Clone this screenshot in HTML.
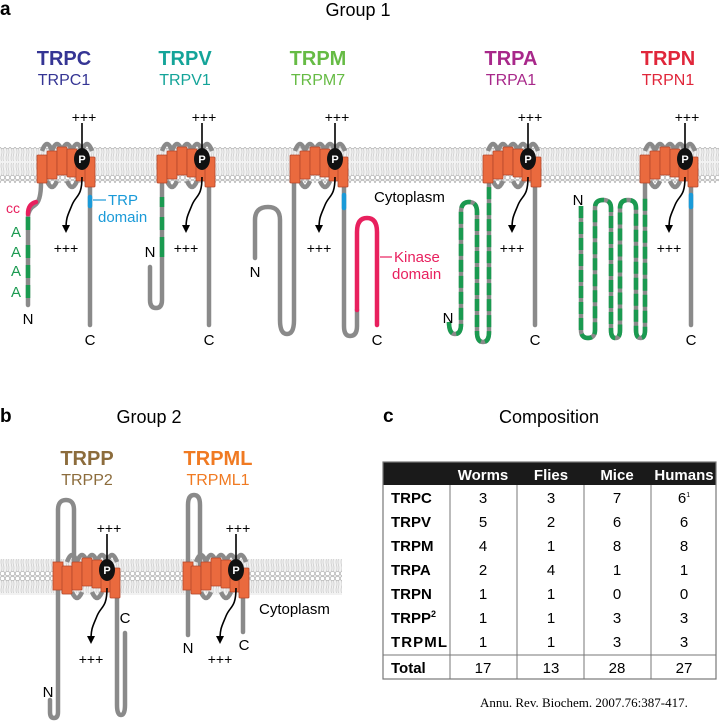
<!DOCTYPE html>
<html><head><meta charset="utf-8"><style>
body{margin:0;background:#fff}
svg{display:block;font-family:"Liberation Sans",Arial,sans-serif}
</style></head><body>
<svg width="719" height="721" viewBox="0 0 719 721" xmlns="http://www.w3.org/2000/svg">
<defs>
<pattern id="lip" x="0" y="0" width="5" height="36" patternUnits="userSpaceOnUse">
<rect width="5" height="36" fill="#f2f2f2"/>
<circle cx="2.5" cy="2.5" r="2.2" fill="#fff" stroke="#b8b8b8" stroke-width="0.8"/>
<circle cx="2.5" cy="33.5" r="2.2" fill="#fff" stroke="#b8b8b8" stroke-width="0.8"/>
<path d="M1.5 5 q1 3 0 6 q-1 3 0 6 M3.5 5 q1 3 0 6 q-1 3 0 6 M1.5 31 q1-3 0-6 q-1-3 0-6 M3.5 31 q1-3 0-6 q-1-3 0-6" fill="none" stroke="#c4c4c4" stroke-width="0.6"/>
</pattern>
<marker id="ar" viewBox="0 0 10 10" refX="5" refY="5" markerWidth="5" markerHeight="5" orient="auto"><path d="M0 0L10 5L0 10z" fill="#000"/></marker>
<g id="ch">
<path d="M-40 -16 q5 -14 10 0 M-30 -16 q5 -14 10 0 M-20 -16 q5 -14 10 0 M-10 -16 q5 -14 10 0 M0 -16 q5 -14 10 0 M-35 14 q5 12 10 0 M-15 14 q5 12 10 0" fill="none" stroke="#8a8a8a" stroke-width="4.5"/>
<g fill="#ea6a3e" stroke="#b4462a" stroke-width="0.8">
<rect x="-45" y="-12" width="10" height="28" rx="1"/>
<rect x="-35" y="-16" width="10" height="28" rx="1"/>
<rect x="-25" y="-20" width="10" height="28" rx="1"/>
<rect x="-15" y="-18" width="10" height="28" rx="1"/>
<rect x="-6" y="-14" width="10" height="28" rx="1"/>
<rect x="3" y="-10" width="10" height="30" rx="1"/>
</g>
<path d="M0 -44 V-10 M0 10 C0 30 -6 28 -10 38 C-14 48 -16 50 -16 62" fill="none" stroke="#000" stroke-width="1.6" marker-end="url(#ar)"/>
<ellipse cx="0" cy="-8" rx="8" ry="11" fill="#111"/>
<text x="0" y="-4" font-size="11" font-weight="bold" fill="#fff" text-anchor="middle">P</text>
<text x="2" y="-45" font-size="14" text-anchor="middle">+++</text>
<text x="-16" y="86" font-size="14" text-anchor="middle">+++</text>
</g>
</defs>
<rect width="719" height="721" fill="#fff"/>
<rect x="0" y="147" width="719" height="36" fill="url(#lip)"/>
<rect x="0" y="559" width="342" height="36" fill="url(#lip)"/>

<text x="0" y="15" font-size="19" font-weight="bold">a</text>
<text x="358" y="16" font-size="18" text-anchor="middle">Group 1</text>
<g text-anchor="middle">
<text x="64" y="65" font-size="20" font-weight="bold" fill="#353594">TRPC</text><text x="64" y="85" font-size="16" fill="#353594">TRPC1</text>
<text x="185" y="65" font-size="20" font-weight="bold" fill="#14a499">TRPV</text><text x="185" y="85" font-size="16" fill="#14a499">TRPV1</text>
<text x="318" y="65" font-size="20" font-weight="bold" fill="#66bb44">TRPM</text><text x="318" y="85" font-size="16" fill="#66bb44">TRPM7</text>
<text x="511" y="65" font-size="20" font-weight="bold" fill="#a8288a">TRPA</text><text x="511" y="85" font-size="16" fill="#a8288a">TRPA1</text>
<text x="668" y="65" font-size="20" font-weight="bold" fill="#e0263a">TRPN</text><text x="668" y="85" font-size="16" fill="#e0263a">TRPN1</text>
</g>

<g fill="none" stroke="#8a8a8a" stroke-width="4.5" stroke-linecap="round">
<path d="M41 183 q0 18 -6 22 q-7 4 -7 12 V305"/>
<path d="M90 185 V325"/>
<path d="M162 183 V300 q0 8 -6 8 q-6 0 -6 -8 V267"/>
<path d="M209 185 V325"/>
<path d="M294 183 V320 q0 14 -7 14 q-7 0 -7 -14 V220 q0 -13 -12 -13 q-13 0 -13 13 V258"/>
<path d="M344 185 V326 q0 10 6 10 q7 0 7 -10 V310"/>
<path d="M535 185 V325"/>
<path d="M691 185 V325"/>
</g>
<g fill="none" stroke="#8a8a8a" stroke-width="4.5">
<path d="M449 322 q0 12 6 12 q6 0 6 -10 V212 q0 -10 8 -10 q8 0 8 10 V332 q0 10 6 10 q6 0 6 -10 V183"/>
<path d="M581 206 V330 q0 8 7 8 q7 0 7 -8 V208 q0 -8 8 -8 q8 0 8 8 V330 q0 8 4.5 8 q4.5 0 4.5 -8 V208 q0 -8 8 -8 q8 0 8 8 V330 q0 8 4.5 8 q4.5 0 4.5 -8 V183"/>
</g>
<g fill="none" stroke="#1a9a50" stroke-width="4.5" stroke-dasharray="12 4">
<path d="M449 322 q0 12 6 12 q6 0 6 -10 V212 q0 -10 8 -10 q8 0 8 10 V332 q0 10 6 10 q6 0 6 -10 V183"/>
<path d="M581 206 V330 q0 8 7 8 q7 0 7 -8 V208 q0 -8 8 -8 q8 0 8 8 V330 q0 8 4.5 8 q4.5 0 4.5 -8 V208 q0 -8 8 -8 q8 0 8 8 V330 q0 8 4.5 8 q4.5 0 4.5 -8 V196"/>
</g>
<g fill="none" stroke="#1a9a50" stroke-width="4.5">
<path d="M162 197 V207 M162 217 V230 M162 237 V257"/>
<path d="M28 217 V230 M28 245 V258 M28 265 V278 M28 285 V298"/>
</g>
<g fill="none" stroke-width="4.5" stroke-linecap="round">
<path d="M28 214 q0 -10 8 -12" stroke="#e8205e"/>
<path d="M357 310 V232 q0 -14 10 -14 q10 0 10 14 V325" stroke="#e8205e"/>
<path d="M90 197 V206 M344 195 V208 M691 195 V207" stroke="#1a9ad8"/>
</g>
<text x="6" y="213" font-size="14" fill="#e8205e">cc</text>
<g font-size="15" fill="#1a9a50" text-anchor="middle"><text x="16" y="237">A</text><text x="16" y="257">A</text><text x="16" y="276">A</text><text x="16" y="297">A</text></g>
<path d="M93 200 h13" stroke="#1a9ad8" stroke-width="1.2"/>
<text x="108" y="205" font-size="15" fill="#1a9ad8">TRP</text>
<text x="98" y="222" font-size="15" fill="#1a9ad8">domain</text>
<path d="M380 257 h12" stroke="#e8205e" stroke-width="1.2"/>
<text x="394" y="262" font-size="15" fill="#e8205e">Kinase</text>
<text x="392" y="279" font-size="15" fill="#e8205e">domain</text>
<text x="374" y="202" font-size="15">Cytoplasm</text>

<use href="#ch" x="82" y="167"/>
<use href="#ch" x="202" y="167"/>
<use href="#ch" x="335" y="167"/>
<use href="#ch" x="528" y="167"/>
<use href="#ch" x="685" y="167"/>

<g font-size="15" text-anchor="middle"><text x="28" y="324">N</text><text x="90" y="345">C</text><text x="150" y="257">N</text><text x="209" y="345">C</text><text x="255" y="277">N</text><text x="377" y="345">C</text><text x="448" y="323">N</text><text x="535" y="345">C</text><text x="578" y="205">N</text><text x="691" y="345">C</text></g>

<!-- group 2 -->
<text x="0" y="422" font-size="19" font-weight="bold">b</text>
<text x="149" y="423" font-size="18" text-anchor="middle">Group 2</text>
<g text-anchor="middle">
<text x="87" y="465" font-size="20" font-weight="bold" fill="#8c6c3c">TRPP</text><text x="87" y="485" font-size="16" fill="#8c6c3c">TRPP2</text>
<text x="218" y="465" font-size="20" font-weight="bold" fill="#f07a22">TRPML</text><text x="218" y="485" font-size="16" fill="#f07a22">TRPML1</text>
</g>
<g fill="none" stroke="#8a8a8a" stroke-width="4.5" stroke-linecap="round">
<path d="M58 565 V510 q0 -10 8 -10 q8 0 8 10 V565"/>
<path d="M58 590 V712 q0 6 -4 6 q-4 0 -4 -6 V700"/>
<path d="M117 590 V705 q0 10 4 10 q4 0 4 -10 V633"/>
<path d="M188 565 V505 q0 -10 6 -10 q6 0 6 10 V565"/>
<path d="M188 590 V635"/>
<path d="M243 590 V632"/>
</g>
<rect x="53" y="562" width="10" height="28" fill="#ea6a3e" stroke="#b4462a" stroke-width="0.8"/>
<rect x="183" y="562" width="10" height="28" fill="#ea6a3e" stroke="#b4462a" stroke-width="0.8"/>
<use href="#ch" x="107" y="578"/>
<use href="#ch" x="236" y="578"/>
<text x="259" y="614" font-size="15">Cytoplasm</text>
<g font-size="15" text-anchor="middle"><text x="48" y="697">N</text><text x="125" y="623">C</text><text x="188" y="653">N</text><text x="244" y="650">C</text></g>

<!-- c table -->
<text x="383" y="422" font-size="19" font-weight="bold">c</text>
<text x="549" y="423" font-size="18" text-anchor="middle">Composition</text>
<rect x="383" y="462" width="333" height="23" fill="#1a1a1a"/>
<rect x="383" y="462" width="333" height="217" fill="none" stroke="#777" stroke-width="1.2"/>
<g stroke="#777" stroke-width="1"><path d="M450 485V679 M517 485V679 M584 485V679 M651 485V679"/><path d="M383 655H716"/></g>
<g font-size="15" font-weight="bold" fill="#fff" text-anchor="middle"><text x="483" y="480">Worms</text><text x="551" y="480">Flies</text><text x="617" y="480">Mice</text><text x="684" y="480">Humans</text></g>
<g font-size="15" font-weight="bold"><text x="391" y="503">TRPC</text><text x="391" y="527">TRPV</text><text x="391" y="551">TRPM</text><text x="391" y="575">TRPA</text><text x="391" y="599">TRPN</text><text x="391" y="623">TRPP<tspan font-size="9" dy="-6">2</tspan></text><text x="391" y="647" textLength="56">TRPML</text><text x="391" y="673">Total</text></g>
<g font-size="15" text-anchor="middle">
<text x="483" y="503">3</text><text x="551" y="503">3</text><text x="617" y="503">7</text><text x="684" y="503">6<tspan font-size="7" dy="-6">1</tspan></text>
<text x="483" y="527">5</text><text x="551" y="527">2</text><text x="617" y="527">6</text><text x="684" y="527">6</text>
<text x="483" y="551">4</text><text x="551" y="551">1</text><text x="617" y="551">8</text><text x="684" y="551">8</text>
<text x="483" y="575">2</text><text x="551" y="575">4</text><text x="617" y="575">1</text><text x="684" y="575">1</text>
<text x="483" y="599">1</text><text x="551" y="599">1</text><text x="617" y="599">0</text><text x="684" y="599">0</text>
<text x="483" y="623">1</text><text x="551" y="623">1</text><text x="617" y="623">3</text><text x="684" y="623">3</text>
<text x="483" y="647">1</text><text x="551" y="647">1</text><text x="617" y="647">3</text><text x="684" y="647">3</text>
<text x="483" y="673">17</text><text x="551" y="673">13</text><text x="617" y="673">28</text><text x="684" y="673">27</text>
</g>
<text x="480" y="707" font-size="13" font-family="Liberation Serif, serif">Annu. Rev. Biochem. 2007.76:387-417.</text>
</svg>
</body></html>
